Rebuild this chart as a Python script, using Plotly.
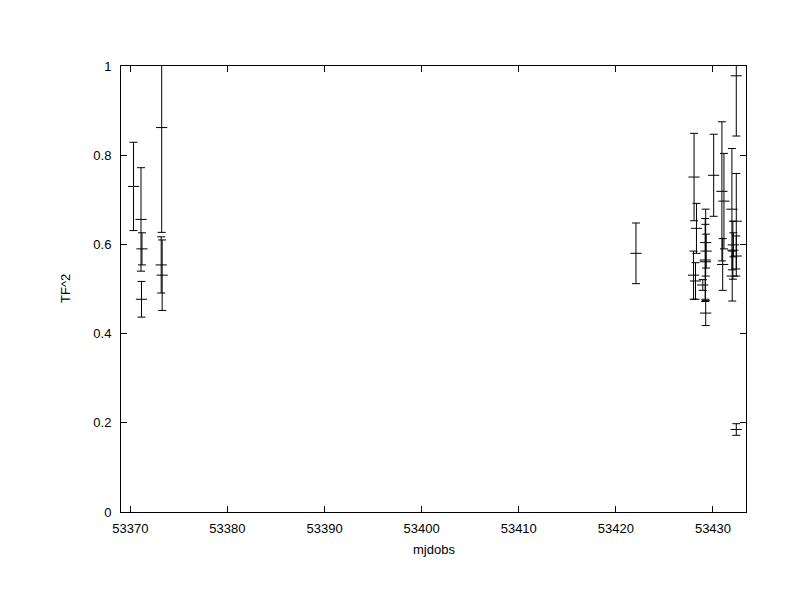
import plotly.graph_objects as go

# Observation dates (MJD)
mjdobs = [
    53370.33, 53371.10, 53371.20, 53371.15, 53373.23, 53373.18, 53373.28,
    53422.07,
    53428.05, 53428.30, 53428.00, 53428.20,
    53429.25, 53429.20, 53429.30, 53429.22, 53429.25, 53428.95,
    53430.07,
    53430.92, 53431.13, 53431.00,
    53431.95, 53432.40, 53432.05, 53431.98, 53432.10, 53432.40, 53432.40, 53432.40,
]
# TF^2 values
tf2 = [
    0.730, 0.656, 0.590, 0.477, 0.862, 0.554, 0.531,
    0.580,
    0.751, 0.636, 0.531, 0.518,
    0.604, 0.565, 0.585, 0.561, 0.446, 0.509,
    0.755,
    0.719, 0.697, 0.555,
    0.679, 0.652, 0.587, 0.529, 0.599, 0.574, 0.978, 0.185,
]
# symmetric errors
tf2_err = [
    0.099, 0.116, 0.036, 0.040, 0.235, 0.063, 0.079,
    0.068,
    0.098, 0.056, 0.054, 0.041,
    0.075, 0.093, 0.038, 0.084, 0.028, 0.012,
    0.092,
    0.156, 0.107, 0.058,
    0.136, 0.107, 0.065, 0.056, 0.027, 0.045, 0.135, 0.013,
]

x_ticks = [53370, 53380, 53390, 53400, 53410, 53420, 53430]
y_ticks = [0, 0.2, 0.4, 0.6, 0.8, 1]

fig = go.Figure()
fig.add_trace(go.Scatter(
    x=mjdobs, y=tf2, mode="markers",
    marker=dict(symbol="line-ew", size=8, color="black",
                line=dict(width=1, color="black")),
    error_y=dict(type="data", array=tf2_err, symmetric=True,
                 color="black", thickness=1, width=4),
    showlegend=False,
))

font = dict(family="Liberation Sans, Arial, sans-serif", size=13, color="black")

fig.update_xaxes(
    range=[53369.04, 53433.4], tickvals=x_ticks, tickformat="d",
    showline=True, linecolor="black", linewidth=1, mirror="ticks",
    ticks="inside", ticklen=6, tickcolor="black", tickwidth=1,
    showgrid=False, zeroline=False, tickfont=font, ticklabelstandoff=4,
)
fig.update_yaxes(
    range=[0, 1], tickvals=y_ticks,
    showline=True, linecolor="black", linewidth=1, mirror="ticks",
    ticks="inside", ticklen=6, tickcolor="black", tickwidth=1,
    showgrid=False, zeroline=False, tickfont=font, ticklabelstandoff=6,
)

fig.add_annotation(text="mjdobs", xref="paper", yref="paper",
                   x=0.5, y=-0.085, xanchor="center", yanchor="middle",
                   showarrow=False, font=font)
fig.add_annotation(text="TF^2", xref="paper", yref="paper",
                   x=-0.0896, y=0.5, xanchor="center", yanchor="middle",
                   textangle=-90, showarrow=False, font=font)

fig.update_layout(
    width=776, height=596,
    margin=dict(l=113, r=38, t=58, b=92),
    paper_bgcolor="white", plot_bgcolor="white",
    font=font,
)

fig.write_html("out.html")
